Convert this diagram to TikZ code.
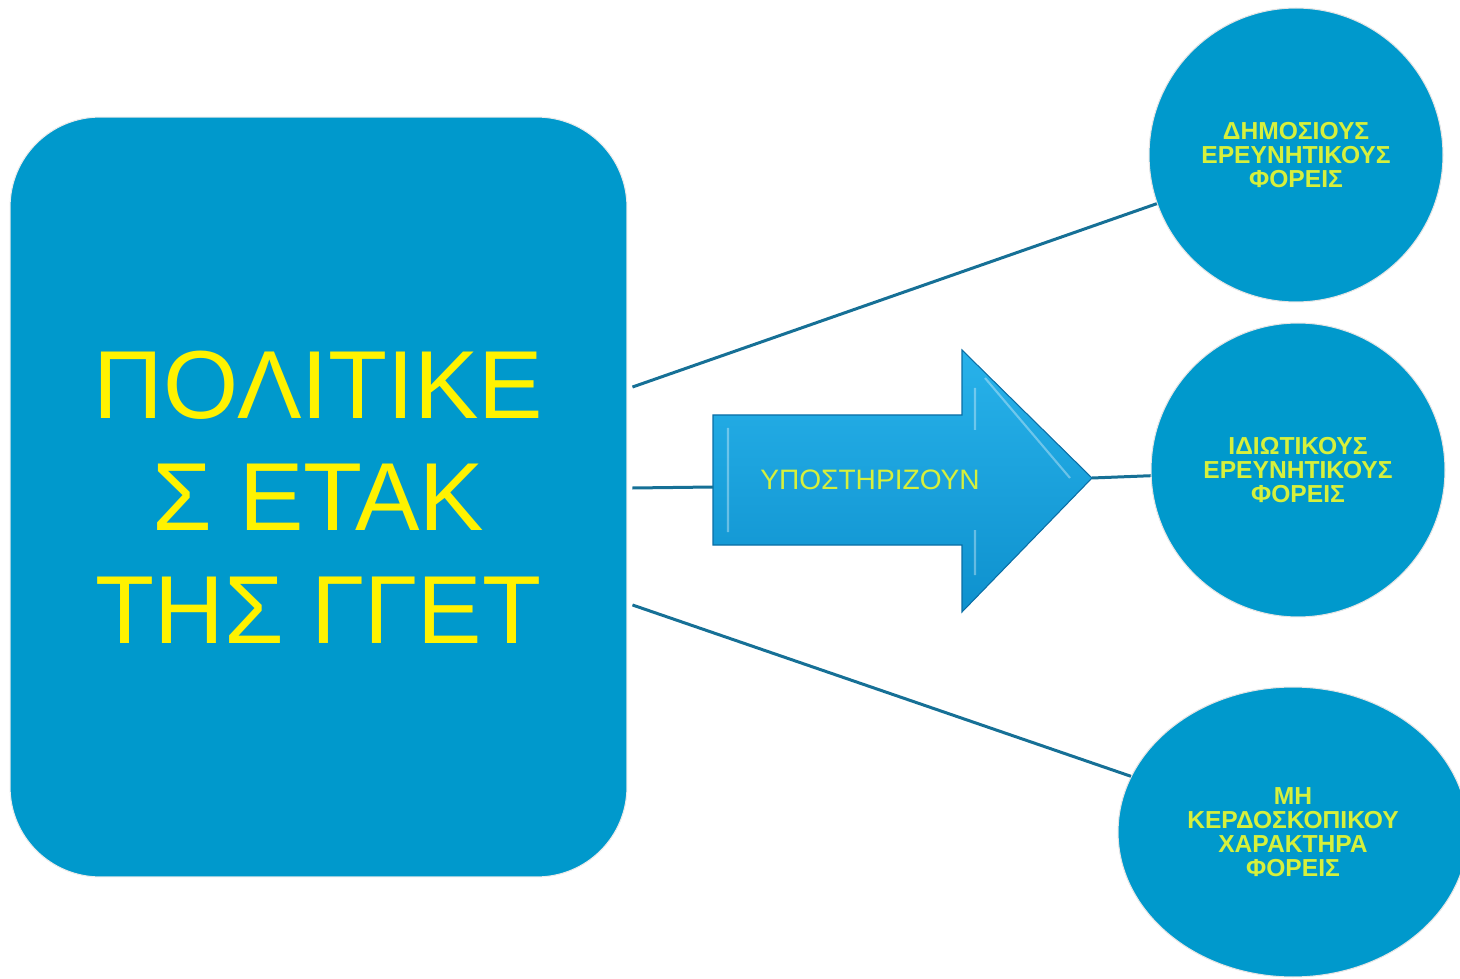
\documentclass[tikz,border=0pt]{standalone}
\usepackage{fontspec}
\setmainfont{Liberation Sans}
\usetikzlibrary{positioning,shapes.geometric}

\definecolor{BoxBlue}{RGB}{0,153,204}
\definecolor{LineTeal}{RGB}{22,112,150}
\definecolor{LimeText}{RGB}{214,240,60}
\definecolor{ArrowTop}{RGB}{40,178,234}
\definecolor{ArrowBot}{RGB}{14,145,206}
\definecolor{ArrowEdge}{RGB}{10,110,165}

\begin{document}
\begin{tikzpicture}[
        %Environment Config (coordinates in pixels of the page)
        x=0.02cm, y=-0.02cm,
        MainBox/.style={%Style for the big rounded box
            draw=black!8,
            line width=0.6pt,
            fill=BoxBlue,
            rounded corners=1.8cm,
            minimum width=12.34cm,
            minimum height=15.2cm,
            text=yellow,
            align=center,
            font=\fontsize{55}{64}\selectfont
        },
        Agency/.style={%Style for the circles on the right
            circle,
            draw=black!10,
            line width=0.6pt,
            fill=BoxBlue,
            minimum size=5.88cm,
            text=LimeText,
            align=center,
            font=\bfseries\fontsize{14}{13.7}\selectfont
        },
        Link/.style={%Style for the connectors
            LineTeal,
            line width=0.06cm
        }
    ]
    \useasboundingbox (0,0) rectangle (1460,979);
    \clip (0,0) rectangle (1460,979);

    % left box
    \node[MainBox] (politik) at (318.5,497) {ΠΟΛΙΤΙΚΕ\\Σ ΕΤΑΚ\\ΤΗΣ ΓΓΕΤ};

    % right circles
    \node[Agency] (dimosioi) at (1296,155) {ΔΗΜΟΣΙΟΥΣ\\ΕΡΕΥΝΗΤΙΚΟΥΣ\\ΦΟΡΕΙΣ};
    \node[Agency] (idiotikoi) at (1298,470) {ΙΔΙΩΤΙΚΟΥΣ\\ΕΡΕΥΝΗΤΙΚΟΥΣ\\ΦΟΡΕΙΣ};
    \node[Agency, ellipse, minimum width=7cm, minimum height=5.8cm] (mkf) at (1293,832) {ΜΗ\\ΚΕΡΔΟΣΚΟΠΙΚΟΥ\\ΧΑΡΑΚΤΗΡΑ\\ΦΟΡΕΙΣ};

    % big arrow
    \coordinate (ArrTail) at (713,487);
    \coordinate (ArrTip) at (1092,478);
    \draw[ArrowEdge, line width=0.6pt, top color=ArrowTop, bottom color=ArrowBot]
        (713,415) -- (962,415) -- (962,350) -- (ArrTip) -- (962,612) -- (962,545) -- (713,545) -- cycle;
    % bevel highlights
    \draw[white, opacity=0.35, line width=1.2pt]
        (728,428) -- (728,532)
        (975,388) -- (975,430)
        (975,530) -- (975,575)
        (985,378) -- (1070,478);
    \node[text=LimeText, font=\fontsize{16}{18}\selectfont] (stirizoun) at (870,480) {ΥΠΟΣΤΗΡΙΖΟΥΝ};

    % connectors
    \coordinate (p1) at ([xshift=0.1cm, yshift=2.2cm]politik.east);
    \coordinate (p2) at ([xshift=0.1cm, yshift=0.18cm]politik.east);
    \coordinate (p3) at ([xshift=0.1cm, yshift=-2.16cm]politik.east);
    \draw[Link] (p1) -- (dimosioi);
    \draw[Link] (p2) -- (ArrTail);
    \draw[Link] (ArrTip) -- (idiotikoi);
    \draw[Link] (p3) -- (mkf);
\end{tikzpicture}
\end{document}
